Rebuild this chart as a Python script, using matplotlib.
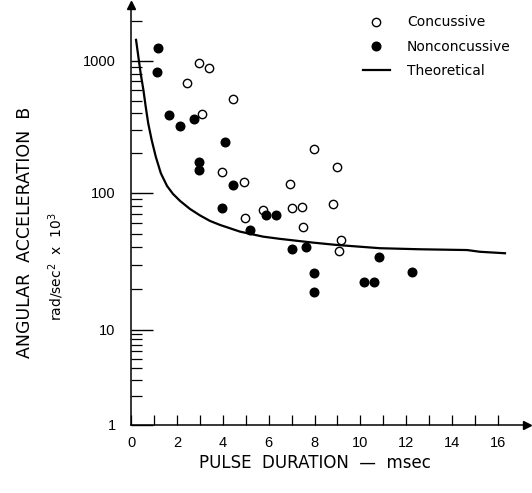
import numpy as np
import matplotlib
matplotlib.use('Agg')
import matplotlib.pyplot as plt
from matplotlib.lines import Line2D

# -----------------------------------------------------------------------------
# data
# -----------------------------------------------------------------------------
conc_t = [2.95, 3.41, 2.45, 4.45, 3.11, 7.98, 8.98, 3.98, 4.94, 6.93,
          5.77, 7.00, 7.44, 8.79, 4.97, 7.48, 9.17, 9.05]
conc_b = [960, 885, 678, 518, 399, 217, 157, 143, 120, 116,
          75, 78, 79, 83, 66, 56, 45, 38]

nonc_t = [1.19, 1.12, 1.67, 2.15, 2.75, 4.08, 2.96, 2.96, 4.46, 3.95,
          5.87, 6.32, 5.19, 7.00, 7.62, 10.83, 7.99, 7.99, 10.17, 10.61, 12.25]
nonc_b = [1250, 820, 390, 324, 364, 245, 171, 148, 114, 78,
          69, 69, 54, 39, 40, 34, 26, 19, 22.5, 22.5, 26.7]

theo_t = [0.22, 0.32, 0.42, 0.54, 0.64, 0.75, 0.90, 1.08, 1.30, 1.57,
          1.83, 2.14, 2.57, 3.01, 3.44, 3.88, 4.75, 5.75, 6.50, 7.93,
          8.98, 10.85, 12.60, 14.65, 15.21, 16.30]
theo_b = [1443, 1078, 807, 603, 451, 337, 252, 188, 141, 113,
          98.3, 87.4, 76.4, 68.5, 62.5, 58.4, 52.2, 48.0, 46.2, 43.4,
          41.7, 39.5, 38.8, 38.3, 37.2, 36.3]

yticks = [1, 10, 100, 1000]
xticks = [0, 2, 4, 6, 8, 10, 12, 14, 16]

# the hand drawn log axis has unequal decades (pixels per decade)
dec_log = [-1, 0, 1, 2, 3, 4]
dec_pos = [-95, 0, 95, 232, 364, 496]

def fwd(v):
    return np.interp(np.log10(np.maximum(v, 1e-6)), dec_log, dec_pos)

def inv(p):
    return 10 ** np.interp(p, dec_pos, dec_log)

# -----------------------------------------------------------------------------
# figure
# -----------------------------------------------------------------------------
fig = plt.figure(figsize=(5.32, 4.93), dpi=100)
ax = fig.add_axes([131/532, 68/493, 396/532, 420/493])

ax.set_yscale('function', functions=(fwd, inv))
ax.set_xlim(0, 17.26)
ax.set_ylim(1, 2650)

ax.plot(theo_t, theo_b, color='black', lw=1.6, zorder=2)
ax.plot(conc_t, conc_b, 'o', ms=6, mfc='white', mec='black', mew=1.0, zorder=3)
ax.plot(nonc_t, nonc_b, 'o', ms=6.2, mfc='black', mec='black', zorder=3)

for s in ['top', 'right']:
    ax.spines[s].set_visible(False)
for s in ['left', 'bottom']:
    ax.spines[s].set_linewidth(1.1)

# arrow heads
ax.plot([1], [0], '>', color='black', ms=6, transform=ax.transAxes, clip_on=False)
ax.plot([0], [1], '^', color='black', ms=6, transform=ax.transAxes, clip_on=False)

ax.set_xticks(xticks)
ax.set_xticklabels([str(t) for t in xticks])
ax.set_xticks(np.arange(1, 17), minor=True)
ax.tick_params(axis='x', which='both', direction='in', length=7, width=0.9,
               pad=8, labelsize=10.5)

ax.set_yticks(yticks)
ax.set_yticklabels([str(t) for t in yticks])
minor = [m * 10 ** d for d in range(0, 4) for m in range(2, 10) if m * 10 ** d < 2500]
ax.set_yticks(minor, minor=True)
ax.tick_params(axis='y', which='major', direction='in', length=16, width=1.0,
               pad=11, labelsize=10.5)
ax.tick_params(axis='y', which='minor', direction='in', length=8, width=0.9)
for lab in ax.get_xticklabels() + ax.get_yticklabels():
    lab.set_family('Liberation Sans')

# axis titles
fig.text(315/532, 1 - 463/493, 'PULSE  DURATION  —  msec', ha='center', va='center',
         fontsize=12, family='DejaVu Sans')
fig.text(25/532, 1 - 232/493, 'ANGULAR  ACCELERATION  B', rotation=90,
         ha='center', va='center', fontsize=12.5, family='DejaVu Sans')
fig.text(56/532, 1 - 267/493, r'rad/sec$^2$  x  10$^3$', rotation=90,
         ha='center', va='center', fontsize=10, family='DejaVu Sans')

handles = [Line2D([], [], ls='none', marker='o', ms=6, mfc='white', mec='black'),
           Line2D([], [], ls='none', marker='o', ms=6.2, mfc='black', mec='black'),
           Line2D([], [], color='black', lw=1.6)]
ax.legend(handles, ['Concussive', 'Nonconcussive', 'Theoretical'],
          loc='upper left', bbox_to_anchor=(350/532, 1 - 3/493),
          bbox_transform=fig.transFigure, frameon=False,
          handlelength=2.0, handletextpad=1.2, labelspacing=0.75,
          prop={'family': 'DejaVu Sans', 'size': 10})

fig.savefig('out.png', dpi=100)
